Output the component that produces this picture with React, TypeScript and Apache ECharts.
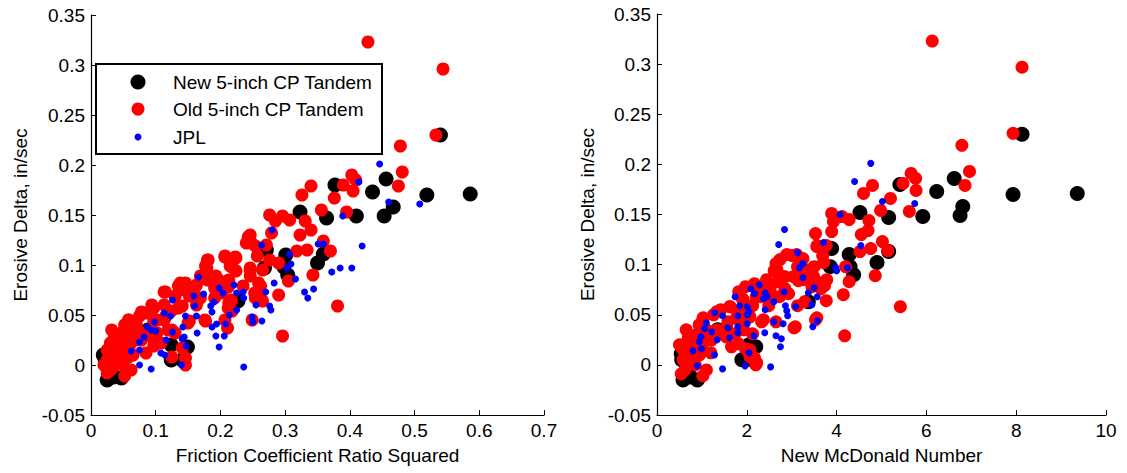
import React, { useEffect, useRef } from "react";
import * as echarts from "echarts";

const FONT = 'Arial, "Liberation Sans", Helvetica, sans-serif';
const FONT_SIZE = 19;

const seriesNames = ["New 5-inch CP Tandem", "Old 5-inch CP Tandem", "JPL"];
const seriesColors = ["#000000", "#ff0000", "#0000ff"];
const symbolSizes = [15, 13, 7];

const yAxisName = "Erosive Delta, in/sec";
const leftXName = "Friction Coefficient Ratio Squared";
const rightXName = "New McDonald Number";

// Left panel: [friction coefficient ratio squared, erosive delta]
const newCpFriction: number[][] = [
  [0.586, 0.171], [0.519, 0.17], [0.54, 0.23], [0.456, 0.186], [0.435, 0.173], [0.467, 0.158],
  [0.453, 0.149], [0.41, 0.149], [0.377, 0.18], [0.364, 0.147], [0.323, 0.153], [0.35, 0.102],
  [0.359, 0.111], [0.301, 0.11], [0.304, 0.09], [0.268, 0.097], [0.271, 0.115], [0.227, 0.064],
  [0.124, 0.02], [0.124, 0.005], [0.088, 0.035], [0.149, 0.018], [0.141, 0.005], [0.019, 0.01],
  [0.025, -0.015], [0.047, -0.013], [0.022, 0.005], [0.035, -0.012], [0.298, 0.098], [0.07, 0.03],
];

const oldCpFriction: number[][] = [
  [0.428, 0.323], [0.544, 0.296], [0.533, 0.23], [0.478, 0.219], [0.481, 0.193], [0.475, 0.179],
  [0.403, 0.19], [0.409, 0.185], [0.405, 0.174], [0.39, 0.18], [0.376, 0.167], [0.395, 0.153],
  [0.356, 0.155], [0.34, 0.179], [0.326, 0.17], [0.331, 0.144], [0.34, 0.135], [0.323, 0.13],
  [0.359, 0.124], [0.37, 0.114], [0.334, 0.115], [0.318, 0.114], [0.343, 0.09], [0.305, 0.084],
  [0.29, 0.07], [0.276, 0.105], [0.29, 0.102], [0.296, 0.149], [0.307, 0.145], [0.276, 0.15],
  [0.285, 0.144], [0.279, 0.132], [0.246, 0.13], [0.24, 0.122], [0.254, 0.119], [0.271, 0.12],
  [0.257, 0.109], [0.246, 0.097], [0.246, 0.089], [0.265, 0.095], [0.262, 0.079], [0.254, 0.067],
  [0.265, 0.064], [0.249, 0.045], [0.296, 0.029], [0.381, 0.059], [0.207, 0.109], [0.224, 0.107],
  [0.215, 0.099], [0.224, 0.094], [0.213, 0.085], [0.193, 0.089], [0.18, 0.105], [0.177, 0.099],
  [0.18, 0.085], [0.163, 0.08], [0.146, 0.082], [0.135, 0.079], [0.113, 0.073], [0.13, 0.069],
  [0.152, 0.069], [0.169, 0.067], [0.191, 0.077], [0.213, 0.062], [0.218, 0.054], [0.177, 0.044],
  [0.211, 0.037], [0.152, 0.044], [0.141, 0.059], [0.124, 0.054], [0.113, 0.06], [0.097, 0.057],
  [0.086, 0.052], [0.075, 0.049], [0.058, 0.045], [0.052, 0.04], [0.064, 0.037], [0.047, 0.032],
  [0.036, 0.029], [0.03, 0.022], [0.025, 0.015], [0.025, 0.005], [0.036, 0.012], [0.047, 0.015],
  [0.055, 0.022], [0.069, 0.025], [0.08, 0.032], [0.091, 0.029], [0.102, 0.032], [0.108, 0.022],
  [0.097, 0.019], [0.041, 0.002], [0.052, -0.011], [0.03, -0.005], [0.025, -0.008], [0.146, 0.007],
  [0.146, 0.0], [0.141, 0.017], [0.119, 0.035], [0.13, 0.032], [0.169, 0.089], [0.191, 0.067],
  [0.202, 0.072], [0.235, 0.079], [0.163, 0.06], [0.097, 0.044], [0.113, 0.045], [0.06, 0.02],
  [0.045, 0.025], [0.04, 0.008], [0.065, 0.01], [0.085, 0.012], [0.058, 0.045], [0.078, 0.053],
  [0.094, 0.06], [0.115, 0.073], [0.138, 0.082], [0.145, 0.075], [0.161, 0.078], [0.181, 0.105],
  [0.179, 0.097], [0.207, 0.108], [0.223, 0.108], [0.218, 0.098], [0.243, 0.128], [0.248, 0.122],
  [0.246, 0.095], [0.259, 0.082], [0.261, 0.068], [0.253, 0.072], [0.197, 0.085], [0.212, 0.078],
  [0.217, 0.065], [0.212, 0.057], [0.207, 0.045], [0.176, 0.045], [0.15, 0.042], [0.135, 0.057],
  [0.12, 0.052], [0.102, 0.045], [0.094, 0.032], [0.078, 0.025], [0.063, 0.028], [0.053, 0.035],
  [0.125, 0.008], [0.115, 0.048], [0.125, 0.035], [0.032, 0.035], [0.042, 0.02], [0.05, 0.0],
  [0.058, 0.008], [0.035, -0.002], [0.062, -0.005], [0.07, 0.04], [0.02, 0.0],
];

const jplFriction: number[][] = [
  [0.446, 0.201], [0.414, 0.183], [0.46, 0.163], [0.508, 0.161], [0.389, 0.149], [0.419, 0.119],
  [0.351, 0.121], [0.359, 0.121], [0.385, 0.097], [0.403, 0.097], [0.372, 0.093], [0.344, 0.076],
  [0.33, 0.073], [0.335, 0.067], [0.307, 0.111], [0.309, 0.101], [0.303, 0.097], [0.316, 0.086],
  [0.28, 0.135], [0.264, 0.12], [0.283, 0.082], [0.27, 0.073], [0.276, 0.059], [0.278, 0.055],
  [0.255, 0.06], [0.264, 0.044], [0.249, 0.048], [0.25, 0.043], [0.236, -0.002], [0.236, 0.067],
  [0.235, 0.073], [0.225, 0.072], [0.221, 0.08], [0.225, 0.055], [0.214, 0.05], [0.204, 0.072],
  [0.198, 0.077], [0.208, 0.041], [0.206, 0.029], [0.193, 0.029], [0.198, 0.018], [0.194, 0.041],
  [0.187, 0.038], [0.19, 0.063], [0.185, 0.059], [0.187, 0.053], [0.174, 0.071], [0.166, 0.088],
  [0.159, 0.069], [0.16, 0.059], [0.163, 0.049], [0.164, 0.032], [0.146, 0.049], [0.142, 0.038],
  [0.144, 0.028], [0.147, 0.019], [0.14, 0.0], [0.141, 0.026], [0.126, 0.065], [0.123, 0.049],
  [0.113, 0.052], [0.126, 0.033], [0.116, 0.025], [0.114, 0.01], [0.108, 0.012], [0.098, 0.043],
  [0.1, 0.034], [0.087, 0.038], [0.093, 0.035], [0.082, 0.028], [0.075, 0.023], [0.075, 0.015],
  [0.062, 0.014], [0.075, 0.0], [0.093, -0.004],
];

// Right panel: [new McDonald number, erosive delta]
const newCpMcDonald: number[][] = [
  [9.36, 0.171], [7.93, 0.17], [8.13, 0.23], [6.62, 0.186], [6.23, 0.173], [6.81, 0.158],
  [6.75, 0.149], [5.92, 0.148], [5.41, 0.18], [5.16, 0.147], [4.52, 0.152], [4.9, 0.102],
  [5.16, 0.113], [4.28, 0.11], [4.38, 0.09], [3.86, 0.098], [3.89, 0.116], [3.37, 0.063],
  [2.05, 0.02], [1.89, 0.005], [1.35, 0.035], [2.2, 0.018], [2.1, 0.005], [0.54, 0.011],
  [0.58, -0.015], [0.9, -0.015], [0.55, 0.005], [0.75, -0.012], [4.3, 0.098], [1.1, 0.03],
];

const oldCpMcDonald: number[][] = [
  [6.13, 0.323], [8.13, 0.297], [7.93, 0.231], [6.79, 0.219], [6.96, 0.193], [6.86, 0.179],
  [5.66, 0.191], [5.76, 0.186], [5.77, 0.174], [5.48, 0.181], [5.2, 0.166], [5.62, 0.153],
  [4.98, 0.154], [4.8, 0.179], [4.6, 0.171], [4.72, 0.144], [4.7, 0.134], [4.55, 0.13],
  [5.02, 0.123], [5.14, 0.114], [4.76, 0.116], [4.52, 0.113], [4.86, 0.089], [4.28, 0.083],
  [4.15, 0.07], [4.2, 0.098], [3.89, 0.151], [4.12, 0.148], [4.28, 0.145], [3.93, 0.143],
  [3.89, 0.133], [3.53, 0.131], [3.57, 0.119], [3.77, 0.119], [3.69, 0.109], [3.5, 0.098],
  [3.49, 0.088], [3.73, 0.079], [3.77, 0.064], [3.65, 0.076], [3.53, 0.045], [4.18, 0.029],
  [5.42, 0.058], [3.01, 0.109], [3.25, 0.106], [3.13, 0.098], [3.29, 0.093], [3.15, 0.084],
  [2.85, 0.088], [2.65, 0.101], [2.61, 0.094], [2.69, 0.083], [2.45, 0.079], [2.17, 0.081],
  [1.97, 0.078], [1.82, 0.073], [1.9, 0.066], [2.21, 0.068], [2.53, 0.066], [2.85, 0.076],
  [3.13, 0.059], [3.29, 0.063], [3.05, 0.037], [2.65, 0.043], [2.33, 0.043], [2.13, 0.059],
  [1.86, 0.053], [1.62, 0.058], [1.42, 0.055], [1.26, 0.05], [1.02, 0.045], [0.94, 0.04],
  [1.1, 0.035], [0.9, 0.031], [0.7, 0.028], [0.62, 0.021], [0.58, 0.015], [0.58, 0.005],
  [0.74, 0.011], [0.9, 0.015], [1.02, 0.021], [1.22, 0.025], [1.38, 0.031], [1.54, 0.028],
  [1.74, 0.031], [1.82, 0.021], [1.66, 0.018], [0.78, 0.001], [1.02, -0.011], [0.62, -0.005],
  [0.54, -0.009], [2.17, 0.007], [2.2, 0.0], [1.97, 0.016], [1.93, 0.035], [2.13, 0.031],
  [2.77, 0.088], [2.73, 0.068], [2.93, 0.071], [3.45, 0.078], [2.49, 0.059], [1.58, 0.043],
  [1.82, 0.045], [0.8, 0.02], [0.7, 0.025], [0.66, 0.008], [0.95, 0.01], [1.2, 0.012],
  [1.03, 0.047], [1.33, 0.053], [1.63, 0.058], [1.92, 0.065], [2.22, 0.078], [2.44, 0.085],
  [2.67, 0.095], [2.74, 0.105], [2.89, 0.11], [3.11, 0.11], [3.34, 0.095], [3.26, 0.085],
  [3.04, 0.088], [2.82, 0.088], [2.52, 0.075], [2.3, 0.068], [2.37, 0.045], [2.07, 0.048],
  [1.78, 0.048], [1.55, 0.038], [1.33, 0.035], [1.18, 0.025], [0.96, 0.018], [2.07, 0.008],
  [2.22, 0.002], [2.07, 0.015], [3.08, 0.038], [3.56, 0.047], [3.63, 0.082], [3.78, 0.085],
  [3.71, 0.102], [3.56, 0.118], [0.5, 0.02], [0.85, 0.0], [1.1, -0.005], [0.65, 0.035],
];

const jplMcDonald: number[][] = [
  [4.76, 0.201], [4.4, 0.183], [5.02, 0.163], [5.74, 0.161], [4.08, 0.15], [4.54, 0.119],
  [3.71, 0.122], [3.98, 0.097], [4.24, 0.097], [4.0, 0.094], [3.5, 0.077], [3.37, 0.072],
  [3.57, 0.068], [3.13, 0.112], [3.25, 0.101], [3.17, 0.097], [3.25, 0.087], [2.84, 0.135],
  [2.71, 0.12], [2.83, 0.073], [2.86, 0.059], [2.89, 0.054], [3.45, 0.06], [3.47, 0.038],
  [3.57, 0.044], [2.91, 0.049], [2.6, 0.063], [2.6, 0.043], [2.53, -0.002], [2.81, 0.041],
  [2.65, 0.029], [2.77, 0.026], [2.75, 0.018], [2.4, 0.032], [3.09, 0.058], [2.28, 0.08],
  [2.09, 0.076], [2.17, 0.071], [2.41, 0.072], [2.37, 0.066], [2.45, 0.068], [2.41, 0.055],
  [2.01, 0.058], [2.05, 0.053], [2.01, 0.05], [2.01, 0.041], [2.16, 0.029], [2.05, 0.012],
  [1.96, -0.001], [1.74, 0.068], [1.84, 0.059], [1.8, 0.049], [1.8, 0.038], [1.58, 0.037],
  [1.62, 0.027], [1.8, 0.032], [1.46, 0.049], [1.28, 0.052], [1.34, 0.025], [1.28, 0.01],
  [1.46, -0.004], [1.1, 0.042], [1.06, 0.036], [0.98, 0.028], [0.94, 0.023], [0.99, 0.016],
  [0.8, 0.014], [0.9, -0.001], [1.22, 0.033],
];

const leftData = [newCpFriction, oldCpFriction, jplFriction];
const rightData = [newCpMcDonald, oldCpMcDonald, jplMcDonald];

const axisCommon = {
  nameLocation: "middle",
  nameTextStyle: { fontFamily: FONT, fontSize: FONT_SIZE, color: "#000" },
  axisLine: { show: true, onZero: false, lineStyle: { color: "#000", width: 1.2 } },
  axisTick: { show: true, inside: true, length: 5, lineStyle: { color: "#000", width: 1 } },
  axisLabel: { color: "#000", fontFamily: FONT, fontSize: FONT_SIZE, margin: 6 },
  splitLine: { show: false },
};

function xAxisDef(gridIndex: number, min: number, max: number, interval: number, name: string) {
  return { ...axisCommon, gridIndex, type: "value", min, max, interval, name, nameGap: 31 };
}

function yAxisDef(gridIndex: number, nameGap: number) {
  return {
    ...axisCommon,
    gridIndex,
    type: "value",
    min: -0.05,
    max: 0.35,
    interval: 0.05,
    name: yAxisName,
    nameGap,
  };
}

export default function App() {
  const ref = useRef<HTMLDivElement>(null);

  useEffect(() => {
    if (!ref.current) return;
    const chart = echarts.init(ref.current, undefined, { renderer: "svg" });

    const series: any[] = [];
    [leftData, rightData].forEach((panel, gi) => {
      panel.forEach((data, si) => {
        series.push({
          type: "scatter",
          name: seriesNames[si],
          xAxisIndex: gi,
          yAxisIndex: gi,
          data,
          symbol: "circle",
          symbolSize: symbolSizes[si],
          itemStyle: { color: seriesColors[si], opacity: 1 },
          z: 2 + si,
        });
      });
    });

    const legendRows = [82, 109, 137];
    const legendGraphics: any[] = [
      {
        type: "rect",
        shape: { x: 96, y: 64, width: 286, height: 90 },
        style: { fill: "#fff", stroke: "#000", lineWidth: 2 },
        z: 100,
      },
    ];
    seriesNames.forEach((n, i) => {
      legendGraphics.push({
        type: "circle",
        shape: { cx: 138, cy: legendRows[i], r: symbolSizes[i] / 2 },
        style: { fill: seriesColors[i] },
        z: 101,
      });
      legendGraphics.push({
        type: "text",
        x: 173,
        y: legendRows[i],
        style: {
          text: n,
          fill: "#000",
          font: `${FONT_SIZE}px ${FONT}`,
          verticalAlign: "middle",
        },
        z: 101,
      });
    });

    chart.setOption({
      animation: false,
      backgroundColor: "#fff",
      grid: [
        { left: 91, top: 15, width: 453, height: 400 },
        { left: 657, top: 14, width: 449, height: 401 },
      ],
      xAxis: [xAxisDef(0, 0, 0.7, 0.1, leftXName), xAxisDef(1, 0, 10, 2, rightXName)],
      yAxis: [yAxisDef(0, 61), yAxisDef(1, 60)],
      series,
      graphic: legendGraphics,
    });

    return () => chart.dispose();
  }, []);

  return (
    <div
      ref={ref}
      style={{ position: "fixed", left: 0, top: 0, width: 1127, height: 473, background: "#fff" }}
    />
  );
}
